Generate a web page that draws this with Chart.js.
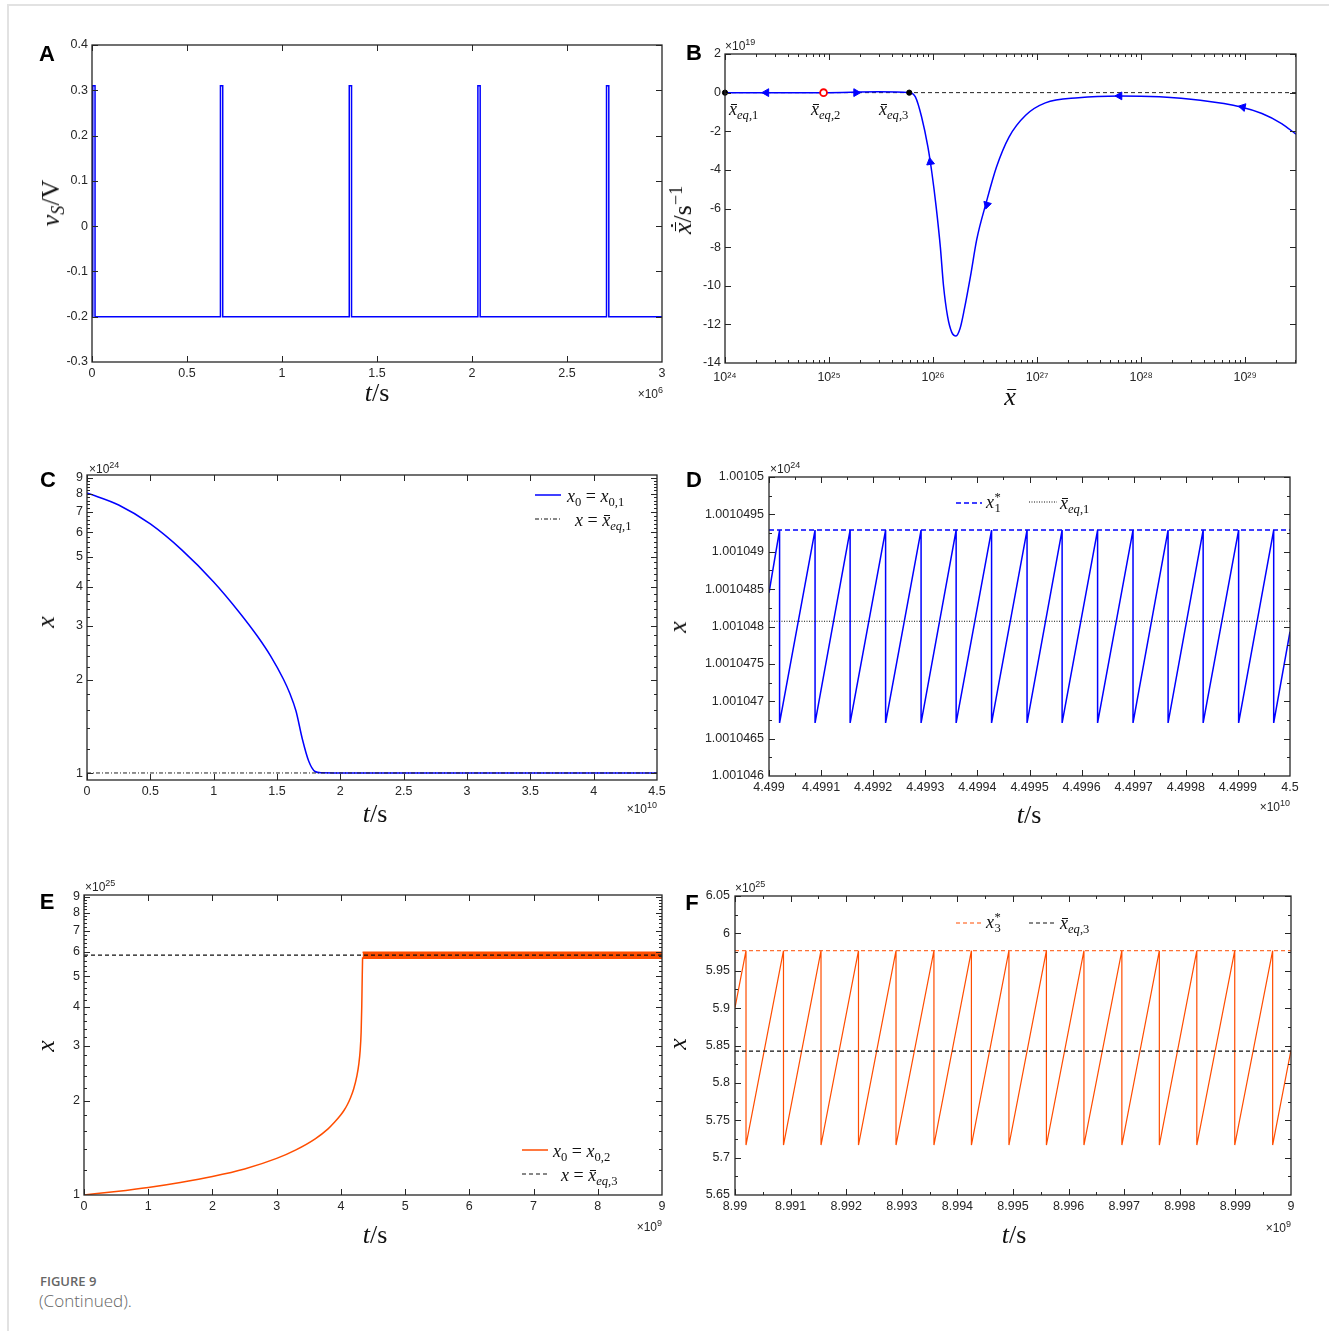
<!DOCTYPE html>
<html>
<head>
<meta charset="utf-8">
<script src="https://cdn.jsdelivr.net/npm/chart.js"></script>
<style>
  body { margin: 0; width: 1329px; height: 1331px; position: relative; background: #fff; overflow: hidden; }
  .frame { position: absolute; left: 7px; top: 4px; right: -4px; bottom: -4px; border-top: 2px solid #e2e2e2; border-left: 2px solid #e2e2e2; }
  .t { position: absolute; white-space: nowrap; line-height: 1; color: #111; }
  .m { font-family: 'Liberation Serif', 'DejaVu Serif', serif; font-size: 26px; }
  .lg { font-size: 18px; }
  .m sub { font-size: 0.7em; vertical-align: -0.28em; line-height: 0; }
  .m sup { font-size: 0.7em; vertical-align: 0.5em; line-height: 0; }
  .bar { position: relative; display: inline-block; }
  .bar::before { content: ''; position: absolute; left: 0.1em; right: 0; top: 0.2em; border-top: 0.055em solid currentColor; }
  .dot::after { content: ''; position: absolute; left: 0.27em; top: 0.02em; width: 0.11em; height: 0.11em; border-radius: 50%; background: currentColor; }
  .eq { margin: 0 0.25em; font-style: normal; }
  .ss { display: inline-flex; flex-direction: column; font-size: 0.7em; line-height: 0.85; vertical-align: 0.5em; margin-left: 0.04em; }
  .letter { font: bold 22px 'Liberation Sans', Arial, sans-serif; color: #000; }
  .mul { font: 12px 'Liberation Sans', Arial, sans-serif; color: #262626; }
  .mul sup { font-size: 9px; vertical-align: 5px; line-height: 0; }
  .cap1 { font: 600 13px 'Open Sans', sans-serif; color: #666; }
  .cap2 { font: 300 17px 'Open Sans', sans-serif; color: #666; }
</style>
</head>
<body>
<div class="frame"></div>
<script>
var BLUE = '#0000ff', ORANGE = '#ff4d00', INK = '#262626';

// ---------- A : spikes of v_S (t in 1e6 s)
var pulseStartA = [0.004, 0.676, 1.354, 2.031, 2.708];
var pulseWidthA = 0.012;
var baseA = -0.2, peakA = 0.31, endA = 3.0;
var xTicksA = [0, 0.5, 1, 1.5, 2, 2.5, 3];
var xLabelsA = ['0', '0.5', '1', '1.5', '2', '2.5', '3'];
var yTicksA = [-0.3, -0.2, -0.1, 0, 0.1, 0.2, 0.3, 0.4];
var yLabelsA = ['-0.3', '-0.2', '-0.1', '0', '0.1', '0.2', '0.3', '0.4'];

// ---------- B : phase portrait (y in 1e19 s^-1)
var xB = [1e24, 8.86e24, 3e25, 5.9e25, 6.76e25, 7.76e25, 8.91e25, 9.77e25, 1.07e26, 1.175e26, 1.26e26,
  1.38e26, 1.51e26, 1.66e26, 1.82e26, 2.0e26, 2.29e26, 2.63e26, 3.24e26, 4.07e26, 5.37e26, 7.76e26,
  1.2e27, 2.5e27, 6.2e27, 1.5e28, 3.7e28, 9.1e28, 1.45e29, 2.24e29, 3.08e29];
var yB = [0, 0, 0.05, 0, -0.22, -1.26, -2.8, -4.2, -5.9, -8.0, -10.0,
  -11.6, -12.4, -12.6, -12.2, -11.2, -9.5, -7.6, -5.7, -3.85, -2.3, -1.17,
  -0.53, -0.26, -0.17, -0.22, -0.4, -0.74, -1.08, -1.6, -2.15];
var eqXB = [1e24, 8.86e24, 5.9e25];
var arrowXB = [2.5e24, 1.82e25, 9.4e25, 3.3e26, 6.2e27, 9.5e28];
var arrowYB = [0, 0, -3.6, -5.8, -0.17, -0.75];
var xTicksB = [1e24, 1e25, 1e26, 1e27, 1e28, 1e29];
var xLabelsB = ['10²⁴', '10²⁵', '10²⁶', '10²⁷', '10²⁸', '10²⁹'];
var yTicksB = [-14, -12, -10, -8, -6, -4, -2, 0, 2];
var yLabelsB = ['-14', '-12', '-10', '-8', '-6', '-4', '-2', '0', '2'];

// ---------- C : x(t) from x_0,1 (t in 1e10 s, x in 1e24)
var tC = [0, 0.25, 0.5, 0.75, 1.0, 1.2, 1.35, 1.45, 1.55, 1.6, 1.65, 1.7, 1.75, 1.8, 1.85, 1.95, 4.5];
var xC = [8.05, 7.36, 6.39, 5.26, 4.15, 3.32, 2.755, 2.39, 2.015, 1.815, 1.588, 1.289, 1.094, 1.012, 1.002, 1.001, 1.001];
var eqC = 1.001;
var xTicksC = [0, 0.5, 1, 1.5, 2, 2.5, 3, 3.5, 4, 4.5];
var xLabelsC = ['0', '0.5', '1', '1.5', '2', '2.5', '3', '3.5', '4', '4.5'];
var yTicksC = [1, 2, 3, 4, 5, 6, 7, 8, 9];
var yLabelsC = ['1', '2', '3', '4', '5', '6', '7', '8', '9'];

// ---------- D : zoom of C tail (t in 1e10 s, x in 1e24)
var dropD = [4.4990203, 4.4990884, 4.4991557, 4.4992238, 4.4992919, 4.4993592, 4.4994272, 4.4994953,
  4.4995626, 4.4996307, 4.4996987, 4.499766, 4.4998333, 4.4999014, 4.4999687];
var startD = 1.00104845, endD = 1.00104793;
var peakD = 1.00104929, troughD = 1.00104671, eqD = 1.00104807;
var xTicksD = [4.499, 4.4991, 4.4992, 4.4993, 4.4994, 4.4995, 4.4996, 4.4997, 4.4998, 4.4999, 4.5];
var xLabelsD = ['4.499', '4.4991', '4.4992', '4.4993', '4.4994', '4.4995', '4.4996', '4.4997', '4.4998', '4.4999', '4.5'];
var yTicksD = [1.001046, 1.0010465, 1.001047, 1.0010475, 1.001048, 1.0010485, 1.001049, 1.0010495, 1.00105];
var yLabelsD = ['1.001046', '1.0010465', '1.001047', '1.0010475', '1.001048', '1.0010485', '1.001049', '1.0010495', '1.00105'];

// ---------- E : x(t) from x_0,2 (t in 1e9 s, x in 1e25)
var tE = [0, 0.5, 1, 1.5, 2, 2.5, 3, 3.3, 3.6, 3.8, 3.9, 4.0, 4.05, 4.1, 4.15, 4.2, 4.25, 4.28, 4.3, 4.315, 4.325, 4.333, 4.338];
var xE = [1.0, 1.026, 1.057, 1.097, 1.146, 1.211, 1.309, 1.394, 1.512, 1.627, 1.708, 1.805, 1.866, 1.943, 2.046, 2.187, 2.407, 2.63, 2.894, 3.306, 4.005, 5.071, 5.75];
var bandTE = [4.338, 9];
var bandHiE = 5.976, bandLoE = 5.717, eqE = 5.842;
var xTicksE = [0, 1, 2, 3, 4, 5, 6, 7, 8, 9];
var xLabelsE = ['0', '1', '2', '3', '4', '5', '6', '7', '8', '9'];
var yTicksE = [1, 2, 3, 4, 5, 6, 7, 8, 9];
var yLabelsE = ['1', '2', '3', '4', '5', '6', '7', '8', '9'];

// ---------- F : zoom of E tail (t in 1e9 s, x in 1e25)
var dropF = [8.990198, 8.990872, 8.991547, 8.992221, 8.992896, 8.993578, 8.994252, 8.994927,
  8.995601, 8.996276, 8.996958, 8.997632, 8.998306, 8.998988, 8.99967];
var startF = 5.9006, endF = 5.8438;
var peakF = 5.9768, troughF = 5.7168, eqF = 5.8425;
var xTicksF = [8.99, 8.991, 8.992, 8.993, 8.994, 8.995, 8.996, 8.997, 8.998, 8.999, 9];
var xLabelsF = ['8.99', '8.991', '8.992', '8.993', '8.994', '8.995', '8.996', '8.997', '8.998', '8.999', '9'];
var yTicksF = [5.65, 5.7, 5.75, 5.8, 5.85, 5.9, 5.95, 6, 6.05];
var yLabelsF = ['5.65', '5.7', '5.75', '5.8', '5.85', '5.9', '5.95', '6', '6.05'];

// ---------- helpers
function zip(xs, ys) { return xs.map(function (x, i) { return {x: x, y: ys[i]}; }); }
function steps(a, b, s) { var r = []; for (var v = a; v <= b + s / 2; v += s) r.push(+v.toFixed(10)); return r; }

// matlab-like box with inward ticks on all four sides
var boxTicks = {
  id: 'boxTicks',
  afterDatasetsDraw: function (chart, args, o) {
    var ctx = chart.ctx, a = chart.chartArea, xs = chart.scales.x, ys = chart.scales.y;
    ctx.save();
    ctx.strokeStyle = INK;
    ctx.lineWidth = 1;
    ctx.beginPath();
    function vx(vals, len) {
      vals.forEach(function (v) {
        var p = Math.round(xs.getPixelForValue(v)) + 0.5;
        if (p < a.left || p > a.right) return;
        ctx.moveTo(p, a.bottom); ctx.lineTo(p, a.bottom - len);
        ctx.moveTo(p, a.top); ctx.lineTo(p, a.top + len);
      });
    }
    function vy(vals, len) {
      vals.forEach(function (v) {
        var p = Math.round(ys.getPixelForValue(v)) + 0.5;
        if (p < a.top || p > a.bottom) return;
        ctx.moveTo(a.left, p); ctx.lineTo(a.left + len, p);
        ctx.moveTo(a.right, p); ctx.lineTo(a.right - len, p);
      });
    }
    vx(xs.ticks.map(function (t) { return t.value; }), 6);
    vy(ys.ticks.map(function (t) { return t.value; }), 6);
    vx(o.xMinor || [], 3);
    vy(o.yMinor || [], 3);
    ctx.stroke();
    ctx.lineWidth = 1.3;
    ctx.strokeRect(a.left, a.top, a.right - a.left, a.bottom - a.top);
    ctx.restore();
  }
};

function axis(type, min, max, ticks, labels, pad) {
  return {
    type: type, min: min, max: max, bounds: 'data',
    grid: {display: false, drawTicks: false},
    border: {display: false},
    afterBuildTicks: function (s) { s.ticks = ticks.map(function (v) { return {value: v}; }); },
    ticks: {
      autoSkip: false, maxRotation: 0, minRotation: 0, padding: pad, color: INK,
      font: {family: "'Liberation Sans', Arial, sans-serif", size: 12.5},
      callback: function (v, i) { return labels[i]; }
    }
  };
}

function line(data, color, width, dash, extra) {
  var d = {data: data, showLine: true, borderColor: color, backgroundColor: color, borderWidth: width,
    borderDash: dash || [], pointRadius: 0, pointHoverRadius: 0, tension: 0, fill: false};
  for (var k in extra || {}) d[k] = extra[k];
  return d;
}

function makePanel(area, datasets, xAxis, yAxis, box) {
  var padL = 80, padT = 20, padR = 25, padB = 40;
  var w = area.R - area.L + padL + padR, h = area.B - area.T + padT + padB;
  var cv = document.createElement('canvas');
  cv.width = w; cv.height = h;
  cv.style.cssText = 'position:absolute;left:' + (area.L - padL) + 'px;top:' + (area.T - padT) + 'px;width:' + w + 'px;height:' + h + 'px';
  document.body.appendChild(cv);
  xAxis.afterFit = function (s) { s.height = padB; };
  yAxis.afterFit = function (s) { s.width = padL; };
  new Chart(cv, {
    type: 'scatter',
    data: {datasets: datasets},
    options: {
      responsive: false, animation: false, devicePixelRatio: 1, events: [],
      layout: {padding: {left: 0, top: padT, right: padR, bottom: 0}},
      scales: {x: xAxis, y: yAxis},
      plugins: {legend: {display: false}, tooltip: {enabled: false}, boxTicks: box || {}}
    },
    plugins: [boxTicks]
  });
}

// ---------- A
var ptsA = [{x: 0, y: baseA}];
pulseStartA.forEach(function (t) {
  ptsA.push({x: t, y: baseA}, {x: t, y: peakA}, {x: t + pulseWidthA, y: peakA}, {x: t + pulseWidthA, y: baseA});
});
ptsA.push({x: endA, y: baseA});
makePanel({L: 92, T: 45, R: 662, B: 362},
  [line(ptsA, BLUE, 1.5)],
  axis('linear', 0, 3, xTicksA, xLabelsA, 4),
  axis('linear', -0.3, 0.4, yTicksA, yLabelsA, 4));

// ---------- B
var bMinor = [];
[1e24, 1e25, 1e26, 1e27, 1e28, 1e29].forEach(function (d) { for (var k = 2; k <= 9; k++) bMinor.push(k * d); });
makePanel({L: 725, T: 54, R: 1296, B: 363},
  [
    {data: zip(eqXB, [0, 0, 0]), showLine: false, clip: false, pointRadius: [2.6, 3.4, 2.6],
      pointBackgroundColor: ['#000', '#fff', '#000'], pointBorderColor: ['#000', '#ff0000', '#000'],
      pointBorderWidth: [1, 1.8, 1]},
    {data: zip(arrowXB, arrowYB), showLine: false, pointStyle: 'triangle', pointRadius: 4.5,
      pointRotation: [-90, 90, -9, 196, -90, -78], backgroundColor: BLUE, borderColor: BLUE, borderWidth: 1},
    line(zip(xB, yB), BLUE, 1.5, [], {cubicInterpolationMode: 'monotone'}),
    line([{x: 1e24, y: 0}, {x: 3.08e29, y: 0}], '#222', 1, [4, 3])
  ],
  axis('logarithmic', 1e24, 3.08e29, xTicksB, xLabelsB, 7),
  axis('linear', -14, 2, yTicksB, yLabelsB, 4),
  {xMinor: bMinor});

// ---------- C
var logMinor = steps(1.2, 9, 0.2).filter(function (v) { return Math.abs(v - Math.round(v)) > 1e-6; });
makePanel({L: 87, T: 475, R: 657, B: 780},
  [
    line([{x: 0, y: eqC}, {x: 4.5, y: eqC}], '#222', 1, [4, 2, 1, 2]),
    line(zip(tC, xC), BLUE, 1.5, [], {cubicInterpolationMode: 'monotone'})
  ],
  axis('linear', 0, 4.5, xTicksC, xLabelsC, 4),
  axis('logarithmic', 0.95, 9.2, yTicksC, yLabelsC, 4),
  {yMinor: logMinor});

// ---------- D
var ptsD = [{x: 4.499, y: startD}];
dropD.forEach(function (t) { ptsD.push({x: t, y: peakD}, {x: t, y: troughD}); });
ptsD.push({x: 4.5, y: endD});
makePanel({L: 769, T: 477, R: 1290, B: 776},
  [
    line([{x: 4.499, y: eqD}, {x: 4.5, y: eqD}], '#111', 1, [1, 1.5]),
    line([{x: 4.499, y: peakD}, {x: 4.5, y: peakD}], BLUE, 1.5, [5, 3]),
    line(ptsD, BLUE, 1.5)
  ],
  axis('linear', 4.499, 4.5, xTicksD, xLabelsD, 4),
  axis('linear', 1.001046, 1.00105, yTicksD, yLabelsD, 5),
  {xMinor: steps(4.49905, 4.49995, 0.0001), yMinor: steps(1.00104625, 1.00104975, 0.0000005)});

// ---------- E
makePanel({L: 84, T: 895, R: 662, B: 1195},
  [
    line([{x: 0, y: eqE}, {x: 9, y: eqE}], '#111', 1.2, [4, 3]),
    line(zip(bandTE, [bandHiE, bandHiE]), ORANGE, 1.5, [], {fill: '+1', backgroundColor: ORANGE}),
    line(zip(bandTE, [bandLoE, bandLoE]), ORANGE, 1.5),
    line(zip(tE, xE), ORANGE, 1.5, [], {cubicInterpolationMode: 'monotone'})
  ],
  axis('linear', 0, 9, xTicksE, xLabelsE, 4),
  axis('logarithmic', 1, 9.1, yTicksE, yLabelsE, 4),
  {yMinor: logMinor});

// ---------- F
var ptsF = [{x: 8.99, y: startF}];
dropF.forEach(function (t) { ptsF.push({x: t, y: peakF}, {x: t, y: troughF}); });
ptsF.push({x: 9, y: endF});
makePanel({L: 735, T: 896, R: 1291, B: 1195},
  [
    line([{x: 8.99, y: eqF}, {x: 9, y: eqF}], '#111', 1.2, [4, 3]),
    line([{x: 8.99, y: peakF}, {x: 9, y: peakF}], ORANGE, 1, [4, 3]),
    line(ptsF, ORANGE, 1.2)
  ],
  axis('linear', 8.99, 9, xTicksF, xLabelsF, 4),
  axis('linear', 5.65, 6.05, yTicksF, yLabelsF, 5),
  {xMinor: steps(8.9905, 8.9995, 0.001), yMinor: steps(5.675, 6.025, 0.05)});

// ---------- text overlays
function put(html, x, y, cls, anchor, rot) {
  var d = document.createElement('div');
  d.className = 't ' + cls;
  d.innerHTML = html;
  d.style.left = x + 'px';
  d.style.top = y + 'px';
  var tx = anchor === 'l' ? '0' : anchor === 'r' ? '-100%' : '-50%';
  d.style.transform = 'translate(' + tx + ',-50%)' + (rot ? ' rotate(-90deg)' : '');
  document.body.appendChild(d);
}
function sample(x1, x2, y, color, dash, w) {
  var d = document.createElement('div');
  d.innerHTML = '<svg width="' + (x2 - x1) + '" height="6"><line x1="0" y1="3" x2="' + (x2 - x1) + '" y2="3" stroke="' + color +
    '" stroke-width="' + w + '" stroke-dasharray="' + dash + '"/></svg>';
  d.style.cssText = 'position:absolute;line-height:0;left:' + x1 + 'px;top:' + (y - 3) + 'px';
  document.body.appendChild(d);
}
var XB = '<span class="bar"><i>x</i></span>';

['A', 47, 54, 'B', 694, 53, 'C', 48, 480, 'D', 694, 480, 'E', 47, 902, 'F', 692, 903].forEach(function (v, i, a) {
  if (i % 3 === 0) put(v, a[i + 1], a[i + 2], 'letter', 'c');
});

put('×10<sup>6</sup>', 663, 394, 'mul', 'r');
put('×10<sup>19</sup>', 725, 46, 'mul', 'l');
put('×10<sup>24</sup>', 89, 469, 'mul', 'l');
put('×10<sup>10</sup>', 657, 809, 'mul', 'r');
put('×10<sup>24</sup>', 770, 469, 'mul', 'l');
put('×10<sup>10</sup>', 1290, 807, 'mul', 'r');
put('×10<sup>25</sup>', 85, 887, 'mul', 'l');
put('×10<sup>9</sup>', 662, 1227, 'mul', 'r');
put('×10<sup>25</sup>', 735, 888, 'mul', 'l');
put('×10<sup>9</sup>', 1291, 1228, 'mul', 'r');

var TS = '<i>t</i>/s';
put(TS, 377, 393, 'm', 'c');
put(XB, 1010, 397, 'm', 'c');
put(TS, 375, 814, 'm', 'c');
put(TS, 1029, 815, 'm', 'c');
put(TS, 375, 1235, 'm', 'c');
put(TS, 1014, 1235, 'm', 'c');

put('<i>v</i><sub><i>S</i></sub>/V', 51, 203, 'm', 'c', true);
put('<span class="bar dot"><i>x</i></span>/s<sup>−1</sup>', 683, 210, 'm', 'c', true);
put('<i>x</i>', 46, 622, 'm', 'c', true);
put('<i>x</i>', 678, 627, 'm', 'c', true);
put('<i>x</i>', 46, 1046, 'm', 'c', true);
put('<i>x</i>', 678, 1044, 'm', 'c', true);

put(XB + '<sub><i>eq</i>,1</sub>', 729, 109, 'm lg', 'l');
put(XB + '<sub><i>eq</i>,2</sub>', 811, 109, 'm lg', 'l');
put(XB + '<sub><i>eq</i>,3</sub>', 879, 109, 'm lg', 'l');

// legends
sample(535, 561, 494.5, BLUE, '', 1.5);
put('<i>x</i><sub>0</sub><span class="eq">=</span><i>x</i><sub>0,1</sub>', 567, 496, 'm lg', 'l');
sample(535, 561, 519, '#111', '4 2 1 2', 1);
put('<i>x</i><span class="eq">=</span>' + XB + '<sub><i>eq</i>,1</sub>', 575, 520, 'm lg', 'l');

sample(956, 982, 503, BLUE, '5 3', 1.5);
put('<i>x</i><span class="ss"><span>*</span><span>1</span></span>', 986, 503, 'm lg', 'l');
sample(1029, 1057, 502, '#111', '1 1.5', 1);
put(XB + '<sub><i>eq</i>,1</sub>', 1060, 503, 'm lg', 'l');

sample(522, 548, 1150, ORANGE, '', 1.5);
put('<i>x</i><sub>0</sub><span class="eq">=</span><i>x</i><sub>0,2</sub>', 553, 1151, 'm lg', 'l');
sample(522, 548, 1174, '#111', '4 3', 1.2);
put('<i>x</i><span class="eq">=</span>' + XB + '<sub><i>eq</i>,3</sub>', 561, 1175, 'm lg', 'l');

sample(956, 982, 923, ORANGE, '4 3', 1.2);
put('<i>x</i><span class="ss"><span>*</span><span>3</span></span>', 986, 923, 'm lg', 'l');
sample(1029, 1056, 923, '#111', '4 3', 1.2);
put(XB + '<sub><i>eq</i>,3</sub>', 1060, 923, 'm lg', 'l');

put('FIGURE 9', 40, 1281, 'cap1', 'l');
put('(Continued).', 39, 1300, 'cap2', 'l');
</script>
</body>
</html>
